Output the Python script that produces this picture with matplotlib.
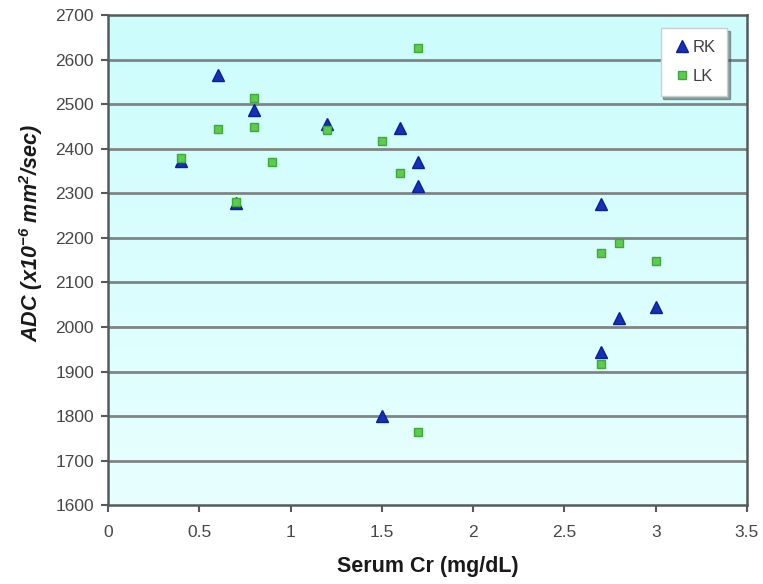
import matplotlib.pyplot as plt
import numpy as np

plt.rcParams['font.family'] = ['Liberation Sans', 'DejaVu Sans']
plt.rcParams['mathtext.default'] = 'regular'

# Serum Cr (mg/dL) vs ADC for right and left kidney
rk_x = [0.4, 0.6, 0.7, 0.8, 1.2, 1.5, 1.6, 1.7, 1.7, 2.7, 2.7, 2.8, 3.0]
rk_y = [2372, 2565, 2278, 2487, 2456, 1800, 2447, 2371, 2317, 2276, 1944, 2021, 2045]

lk_x = [0.4, 0.6, 0.7, 0.8, 0.8, 0.9, 1.2, 1.5, 1.6, 1.7, 1.7, 2.7, 2.7, 2.8, 3.0]
lk_y = [2380, 2445, 2281, 2515, 2450, 2371, 2442, 2418, 2345, 2626, 1764, 2166, 1917, 2188, 2148]

xticks = [0, 0.5, 1, 1.5, 2, 2.5, 3, 3.5]
xtick_labels = ['0', '0.5', '1', '1.5', '2', '2.5', '3', '3.5']
yticks = list(range(1600, 2701, 100))

fig = plt.figure(figsize=(7.63, 5.84), dpi=100)
ax = fig.add_axes([0.1415, 0.135, 0.8375, 0.839])

# light cyan gradient background
top = np.array([0.80, 0.99, 0.99])
bottom = np.array([0.91, 1.0, 1.0])
t = np.linspace(0, 1, 256)[:, None]
grad = (top * (1 - t) + bottom * t)[:, None, :]
ax.imshow(grad, extent=[0, 1, 0, 1], transform=ax.transAxes, aspect='auto', zorder=0)

for y in yticks[1:-1]:
    ax.axhline(y, color='#808484', lw=2.0, zorder=1)

ax.plot(rk_x, rk_y, linestyle='none', marker='^', markersize=8, color='#1530b8',
        markeredgecolor='#0c2090', label='RK', zorder=3)
ax.plot(lk_x, lk_y, linestyle='none', marker='s', markersize=6, color='#5ccc4c',
        markeredgecolor='#3ea83a', label='LK', zorder=4)

ax.set_xlim(0, 3.5)
ax.set_ylim(1600, 2700)
ax.set_xticks(xticks)
ax.set_xticklabels(xtick_labels)
ax.set_yticks(yticks)

for s in ax.spines.values():
    s.set_color('#555a5a')
    s.set_linewidth(1.8)

ax.tick_params(axis='both', colors='#555a5a', labelcolor='#474747', labelsize=12.5,
               length=5, width=1.5, direction='out')
ax.tick_params(axis='x', pad=9)
ax.tick_params(axis='y', pad=5)

ax.set_xlabel('Serum Cr (mg/dL)', fontsize=15.5, fontweight='bold', color='#1a1a1a')
ax.set_ylabel(r'ADC (x10$^{-6}$ mm$^{2}$/sec)', fontsize=15.5, fontweight='bold',
              fontstyle='italic', color='#1a1a1a')
ax.xaxis.set_label_coords(0.5, -0.103)
ax.yaxis.set_label_coords(-0.098, 0.555)

leg = ax.legend(loc='upper right', bbox_to_anchor=(0.969, 0.973), borderaxespad=0,
                fontsize=12, frameon=True, fancybox=False, shadow=True,
                handletextpad=0.1, borderpad=0.7, labelspacing=0.85, handlelength=1.1)
leg.get_frame().set_facecolor('white')
leg.get_frame().set_edgecolor('#c8d0d0')
for txt in leg.get_texts():
    txt.set_color('#404040')

fig.savefig('out.png', dpi=100)
